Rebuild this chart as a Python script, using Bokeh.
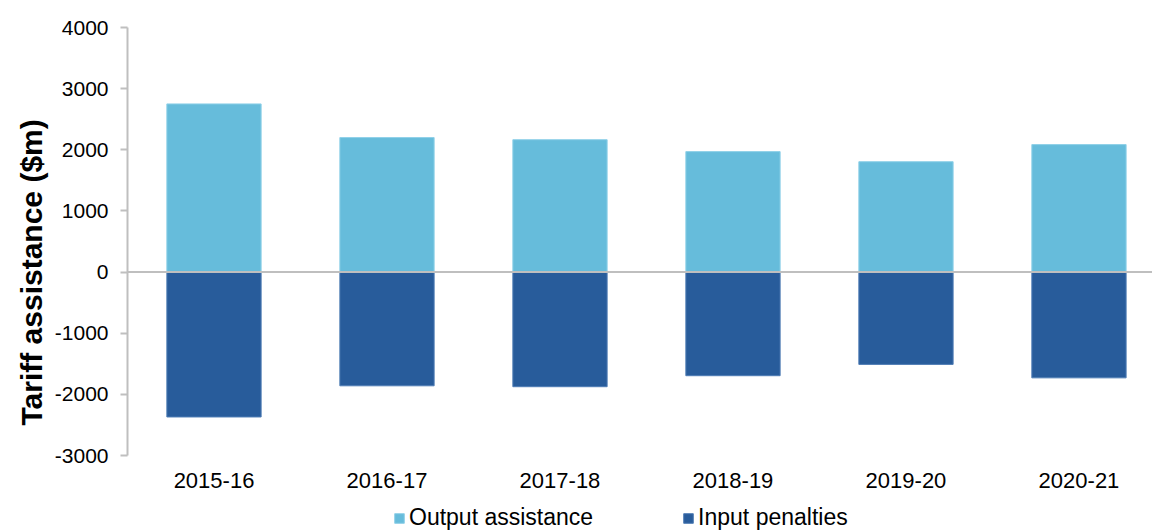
from bokeh.plotting import figure
from bokeh.models import Range1d, FixedTicker, Span, Legend, LegendItem, Title
from bokeh.core.properties import value
from bokeh.embed import file_html
from bokeh.resources import INLINE

years = ["2015-16", "2016-17", "2017-18", "2018-19", "2019-20", "2020-21"]
output_assistance = [2750, 2200, 2165, 1970, 1805, 2085]
input_penalties = [-2370, -1860, -1875, -1695, -1510, -1730]
y_ticks = [-3000, -2000, -1000, 0, 1000, 2000, 3000, 4000]

LIGHT = "#66BCDB"
DARK = "#285C9B"
GRID = "#BFBFBF"
FONT = "Liberation Sans"

Y_MIN, Y_MAX = y_ticks[0], y_ticks[-1]
PLOT_PX = 428          # pixel height of the -3000..4000 span
FRAME_PX = 504         # frame height (extends down to hold labels and legend)
y_start = Y_MAX - (Y_MAX - Y_MIN) * FRAME_PX / PLOT_PX

xs = list(range(len(years)))

p = figure(width=1152, height=531, output_backend="svg", toolbar_location=None,
           x_range=Range1d(-0.5, 5.425), y_range=Range1d(y_start, Y_MAX),
           x_axis_location=None,
           min_border_left=127, min_border_right=0, min_border_top=27,
           min_border_bottom=0)
p.outline_line_color = None
p.xgrid.visible = False
p.ygrid.visible = False
p.background_fill_color = "white"

r1 = p.vbar(x=xs, top=output_assistance, bottom=0, width=0.545,
            fill_color=LIGHT, line_color="#8FD0E8", line_width=1)
r2 = p.vbar(x=xs, top=0, bottom=input_penalties, width=0.545,
            fill_color=DARK, line_color="#4F7DB5", line_width=1)

p.add_layout(Span(location=0, dimension="width", line_color=GRID, line_width=2))

# y axis
ya = p.yaxis[0]
ya.bounds = (Y_MIN, Y_MAX)
ya.ticker = FixedTicker(ticks=y_ticks)
ya.major_label_overrides = {t: str(t) for t in y_ticks}
ya.axis_line_color = GRID
ya.axis_line_width = 2
ya.major_tick_line_color = GRID
ya.major_tick_line_width = 2
ya.major_tick_out = 7
ya.major_tick_in = 0
ya.minor_tick_line_color = None
ya.major_label_text_font = FONT
ya.major_label_text_font_size = "21px"
ya.major_label_text_color = "black"
ya.major_label_standoff = 12

# category labels under the bars
p.text(x=xs, y=[Y_MIN] * len(xs), text=years, y_offset=17,
       text_font=value(FONT), text_font_size="22px", text_color="black",
       text_align="center", text_baseline="top")

# y-axis title
p.add_layout(Title(text="Tariff assistance ($m)", align="left", offset=106,
                   text_font=FONT, text_font_size="30px",
                   text_font_style="bold", text_color="black", standoff=8),
             "left")

legend = Legend(items=[LegendItem(label="Output assistance", renderers=[r1]),
                       LegendItem(label="Input penalties", renderers=[r2])],
                orientation="horizontal", location=(266, 0),
                glyph_width=12, glyph_height=12, label_standoff=4,
                spacing=89, padding=0, margin=0,
                border_line_color=None, background_fill_alpha=0,
                label_text_font=FONT, label_text_font_size="23px",
                label_text_color="black")
p.add_layout(legend, "center")

open("out.html", "w").write(file_html(p, INLINE))
